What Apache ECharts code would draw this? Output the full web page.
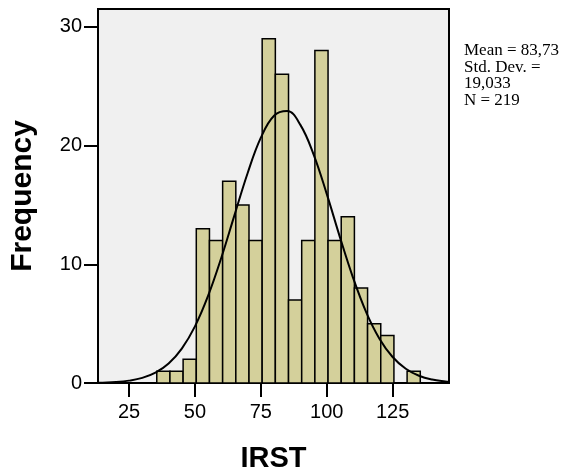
<!DOCTYPE html>
<html>
<head>
<meta charset="utf-8">
<script src="https://cdn.jsdelivr.net/npm/echarts@6/dist/echarts.min.js"></script>
<style>
  html, body { margin: 0; padding: 0; background: #fff; }
  #chart { width: 566px; height: 471px; }
</style>
</head>
<body>
<div id="chart"></div>
<script>
// histogram bins (lower edge of each 5-unit bin) and counts
let binStarts = [35.5, 40.5, 45.5, 50.5, 55.5, 60.5, 65.5, 70.5, 75.5, 80.5, 85.5, 90.5, 95.5, 100.5, 105.5, 110.5, 115.5, 120.5, 125.5, 130.5]
let counts = [1, 1, 2, 13, 12, 17, 15, 12, 29, 26, 7, 12, 28, 12, 14, 8, 5, 4, 0, 1]
let binWidth = 5

// normal curve
let curveX = [13.2, 15, 20, 25, 30, 35, 40, 45, 50, 55, 60, 65, 70, 75, 80, 85, 90, 95, 100, 105, 110, 115, 120, 125, 130, 135, 140, 145, 146.4]
let curveY = [0.02, 0.03, 0.08, 0.2, 0.43, 0.87, 1.64, 2.9, 4.77, 7.35, 10.55, 14.14, 17.69, 20.66, 22.51, 22.9, 21.74, 19.26, 15.93, 12.29, 8.86, 5.95, 3.73, 2.19, 1.2, 0.61, 0.29, 0.13, 0.11]

let xTicks = [25, 50, 75, 100, 125]
let yTicks = [0, 10, 20, 30]
let statsLines = ['Mean = 83,73', 'Std. Dev. =', '19,033', 'N = 219']

let myChart = echarts.init(document.getElementById('chart'))

let barData = binStarts.map((s, i) => [s, s + binWidth, counts[i]])
let curveData = curveX.map((x, i) => [x, curveY[i]])

let option = {
  animation: false,
  grid: {
    left: 98, top: 9, right: 117, bottom: 88,
    outerBoundsMode: 'none',
    containLabel: false,
    show: true,
    backgroundColor: '#F0F0F0',
    borderColor: '#000',
    borderWidth: 2
  },
  xAxis: {
    type: 'value',
    min: 13.2,
    max: 146.4,
    name: 'IRST',
    nameLocation: 'middle',
    nameGap: 61,
    nameTextStyle: { fontFamily: 'Liberation Sans', fontWeight: 'bold', fontSize: 29, color: '#000' },
    splitLine: { show: false },
    axisLine: { show: true, onZero: false, lineStyle: { color: '#000', width: 2 } },
    axisTick: { show: true, length: 14, customValues: xTicks, lineStyle: { color: '#000', width: 2 } },
    axisLabel: { customValues: xTicks, margin: 19, fontFamily: 'Liberation Sans', fontSize: 20, color: '#000' }
  },
  yAxis: {
    type: 'value',
    min: 0,
    max: 31.5,
    name: 'Frequency',
    nameLocation: 'middle',
    nameGap: 60,
    nameTextStyle: { fontFamily: 'Liberation Sans', fontWeight: 'bold', fontSize: 30, color: '#000' },
    splitLine: { show: false },
    axisLine: { show: true, lineStyle: { color: '#000', width: 2 } },
    axisTick: { show: true, length: 14, customValues: yTicks, lineStyle: { color: '#000', width: 2 } },
    axisLabel: { customValues: yTicks, margin: 16, fontFamily: 'Liberation Sans', fontSize: 20, color: '#000' }
  },
  series: [
    {
      type: 'custom',
      data: barData,
      encode: { x: [0, 1], y: 2 },
      renderItem: function (params, api) {
        let p0 = api.coord([api.value(0), 0])
        let p1 = api.coord([api.value(1), api.value(2)])
        if (api.value(2) <= 0) return
        return {
          type: 'rect',
          shape: { x: p0[0], y: p1[1], width: p1[0] - p0[0], height: p0[1] - p1[1] },
          style: { fill: '#D4D09B', stroke: '#000', lineWidth: 1.5 }
        }
      }
    },
    {
      type: 'line',
      data: curveData,
      smooth: 0.4,
      symbol: 'none',
      lineStyle: { color: '#000', width: 2 },
      z: 5
    }
  ],
  graphic: [{
    type: 'text',
    left: 464,
    top: 42,
    style: { text: statsLines.join('\n'), fontFamily: 'Liberation Serif', fontSize: 17, lineHeight: 16.7, fill: '#000' }
  }]
}

myChart.setOption(option)
</script>
</body>
</html>
